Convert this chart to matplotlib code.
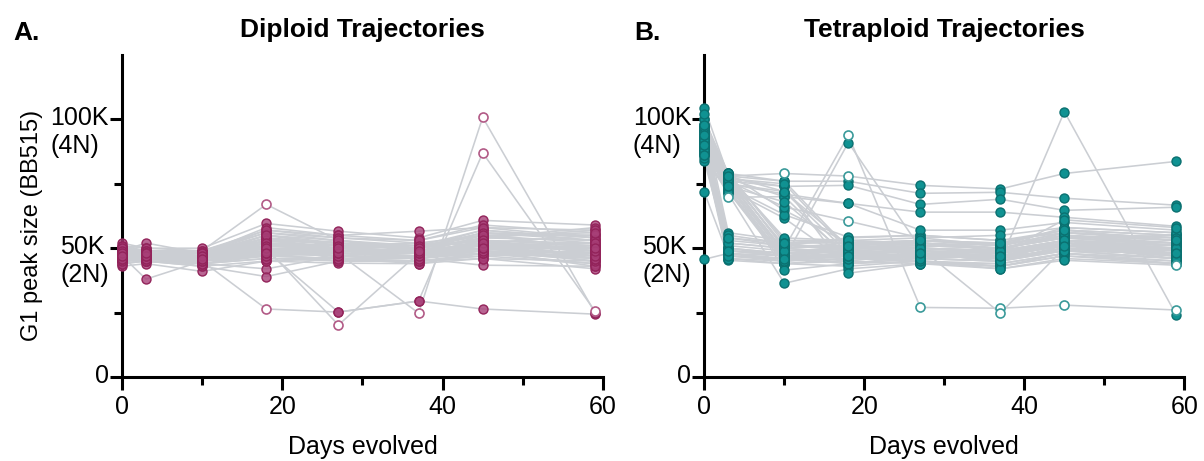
"""
Diploid vs tetraploid G1 peak trajectories over days of evolution.
"""

import matplotlib

matplotlib.use("Agg")

import matplotlib.pyplot as plt
import matplotlib.transforms as mtransforms
import numpy as np

plt.rcParams["font.family"] = ["Liberation Sans", "DejaVu Sans"]

# sampling days
days = [0, 3, 10, 18, 27, 37, 45, 59]

# diploid G1 peak (thousands), one list per day, index = population
dip_d0 = [47, 48, 46, 47, 48, 47, 49, 45, 46, 52, 43, 51, 50, 44, 49, 47, 48, 46, 45, 50,
          48, 47, 49, 46, 48, 47, 45, 50, 48, 47, 49, 46, 48, 47, 51, 44, 48, 47, 49, 46,
          48, 46, 47, 49, 45, 48, 47, 50, 46, 48, 47, 49, 46, 48, 47]
dip_d3 = [47, 47, 46, 48, 49, 38, 52, 46, 45, 50, 44, 49, 48, 45, 48, 46, 47, 47, 46, 49,
          48, 47, 48, 45, 49, 46, 45, 49, 48, 47, 48, 46, 47, 48, 50, 45, 47, 46, 49, 47,
          48, 46, 47, 48, 46, 47, 48, 49, 45, 48, 46, 48, 47, 47, 48]
dip_d10 = [45, 47, 46, 47, 49, 45, 48, 44, 43, 50, 41, 48, 47, 44, 47, 45, 46, 46, 45, 49,
           48, 46, 47, 44, 48, 46, 43, 48, 47, 47, 48, 45, 46, 47, 49, 44, 47, 46, 48, 45,
           47, 45, 46, 48, 44, 47, 46, 48, 45, 47, 46, 48, 45, 47, 46]
dip_d18 = [26.4, 49, 50, 48, 67, 47, 55, 42, 39, 59.6, 45, 57, 53, 46, 51, 49, 52, 54, 50, 56,
           47, 51, 55, 48, 58, 52, 45, 53, 49, 50, 56, 47, 53, 51, 57, 46, 54, 50, 52, 48,
           50, 49, 52, 54, 47, 51, 53, 55, 48, 50, 49, 52, 51, 50, 48]
dip_d27 = [25.2, 25.2, 20.2, 48, 53, 49, 52, 47, 45, 56.6, 44.2, 55, 50, 46, 53, 47, 51, 49, 46, 54,
           48, 50, 51, 45, 55, 48, 46, 52, 49, 47, 53, 46, 50, 51, 54, 45, 52, 48, 49, 47,
           49, 48, 50, 51, 46, 49, 52, 53, 47, 50, 48, 51, 49, 48, 50]
dip_d37 = [29.5, 29.5, 48, 24.8, 50, 48, 50, 46, 47, 54, 44, 56.6, 51, 45, 49, 47, 50, 48, 46, 52,
           49, 48, 52, 45, 53, 47, 44, 51, 48, 46, 50, 47, 49, 48, 53, 45, 49, 47, 50, 46,
           49, 47, 48, 50, 45, 48, 49, 51, 46, 49, 47, 50, 48, 48, 49]
dip_d45 = [26.4, 87, 52, 100.8, 55, 51, 57, 49, 50, 60.8, 46, 58, 53, 47, 52, 48, 56, 50, 43.4, 55,
           54, 49, 51, 47, 59, 53, 48, 57, 52, 50, 54, 49, 51, 55, 58, 46, 52, 50, 53, 48,
           51, 50, 53, 56, 48, 51, 54, 55, 49, 52, 50, 53, 51, 52, 50]
dip_d59 = [24.4, 25.6, 50, 25.0, 52, 49, 54, 46, 45, 59, 42, 57, 48, 44, 51, 47, 53, 46, 43, 55,
           58, 45, 50, 48, 56, 49, 44, 53, 47, 51, 57, 43, 52, 50, 54, 45, 55, 48, 46, 49,
           52, 47, 51, 55, 46, 49, 53, 56, 48, 50, 51, 52, 47, 49, 50]
# populations drawn as open circles on a given day
dip_open = {18: [0, 4], 27: [2], 37: [3], 45: [1, 3], 59: [1]}

# tetraploid G1 peak (thousands)
tet_d0 = [92, 88, 95, 90, 86, 93, 89, 98.4, 84, 91, 45.7, 71.7, 87, 94, 90,
          96, 92, 89, 100, 85, 93, 88, 97, 91, 86, 94, 90,
          95, 92, 89, 97, 87, 91, 94,
          98, 96, 93, 90, 92, 100,
          104.6, 102, 88, 90, 93,
          91, 87, 94, 89, 96, 93, 90, 95, 88, 92, 97, 86, 94, 90, 98]
tet_d3 = [48, 46, 52, 54, 45.3, 50, 47, 56, 49, 51, 48, 47, 53, 46, 49,
          76, 78, 74, 79, 72, 75, 73, 77, 76, 71, 78, 74,
          78, 75, 77, 79, 73, 76, 74,
          78, 79, 77, 75, 69.8, 76,
          78, 72, 50, 48, 55,
          50, 47, 52, 49, 54, 77, 75, 78, 73, 76, 79, 72, 77, 74, 78]
tet_d10 = [47, 45, 50, 52, 44, 48, 46, 53, 47, 49, 46, 45, 51, 44, 48,
           48, 50, 46, 53, 44, 47, 45, 51, 41.5, 36.4, 54, 49,
           76, 72, 70, 64.7, 61.6, 74, 63,
           79, 76, 74, 71, 70, 66,
           50, 46, 47, 45, 52,
           48, 46, 50, 47, 51, 48, 47, 50, 45, 49, 52, 46, 75, 68, 72]
tet_d18 = [50, 48, 52, 49, 46, 51, 47, 53, 45, 50, 44, 48, 54, 43, 49,
           50, 48, 47, 52, 45, 46, 49, 51, 44, 42, 53, 50,
           50, 48, 46, 52, 44, 40.3, 54.3,
           78, 76, 74.4, 67.4, 67.4, 60.5,
           93.8, 91, 49, 47, 52,
           49, 48, 51, 47, 50, 49, 48, 51, 46, 50, 53, 47, 49, 47, 51]
tet_d27 = [49, 47, 51, 53, 45, 50, 46, 54, 48, 52, 47, 46, 55, 45, 48,
           50, 49, 47, 53, 44, 48, 46, 52, 45, 44, 51, 50,
           52, 49, 47, 53, 46, 44, 55,
           74.4, 71.3, 67, 64, 57, 54,
           27, 50, 48, 45, 47,
           50, 47, 52, 49, 51, 48, 50, 49, 47, 51, 52, 46, 50, 48, 53]
tet_d37 = [48, 46, 50, 52, 44, 49, 47, 51, 45, 50, 46, 48, 53, 43, 47,
           48, 47, 46, 51, 44, 49, 45, 50, 43, 42, 52, 49,
           50, 48, 46, 51, 45, 43, 53,
           73, 71.7, 69, 64, 57, 55,
           26.7, 24.8, 45, 42, 48,
           48, 47, 51, 46, 50, 47, 49, 48, 46, 50, 49, 45, 49, 47, 52]
tet_d45 = [52, 50, 55, 57, 48, 53, 49, 58, 51, 54, 50, 52, 56, 47, 51,
           52, 53, 49, 56, 48, 51, 50, 55, 47, 46, 54, 53,
           54, 52, 50, 56, 49, 48, 57,
           79, 69.4, 64.7, 62, 60, 58,
           27.9, 50, 103, 45.3, 61,
           53, 51, 55, 52, 54, 52, 51, 53, 50, 55, 56, 49, 53, 51, 57]
tet_d59 = [50, 47, 53, 55, 45, 51, 48, 56, 46, 52, 49, 47, 54, 44, 50,
           51, 49, 48, 53, 46, 50, 47, 52, 45, 44, 55, 48,
           52, 49, 47, 54, 46, 44, 55,
           83.7, 66.7, 65.9, 58.5, 57, 56,
           26, 48, 24, 43.4, 58,
           50, 48, 53, 49, 51, 50, 49, 52, 47, 51, 54, 46, 50, 48, 53]
tet_open = {3: [38], 10: [34], 18: [34, 39, 40], 27: [40], 37: [40, 41], 45: [40], 59: [40, 43]}

y_ticks = [0, 50000, 100000]
y_ticklabels = ["0", "50K\n(2N)", "100K\n(4N)"]
x_ticks = [0, 20, 40, 60]

LINE_GREY = "#CBCED3"


def draw_panel(ax, table, open_points, face, edge, open_edge, title):
    values = np.array(table, dtype=float).T * 1000.0

    for series in values:
        ax.plot(days, series, color=LINE_GREY, linewidth=1.15, zorder=1)

    for j, day in enumerate(days):
        hollow = np.zeros(values.shape[0], dtype=bool)
        hollow[open_points.get(day, [])] = True
        col = values[:, j]
        x = np.full(col.shape, day)
        ax.scatter(x[~hollow], col[~hollow], s=42, facecolor=face, edgecolor=edge,
                   linewidth=1.0, zorder=3, clip_on=False)
        ax.scatter(x[hollow], col[hollow], s=42, facecolor="white", edgecolor=open_edge,
                   linewidth=1.2, zorder=4, clip_on=False)

    ax.set_xlim(0, 60)
    ax.set_ylim(0, 125000)
    ax.spines["top"].set_visible(False)
    ax.spines["right"].set_visible(False)
    for side in ("left", "bottom"):
        ax.spines[side].set_linewidth(2.2)

    ax.set_xticks(x_ticks)
    ax.set_xticks([10, 30, 50], minor=True)
    ax.set_yticks(y_ticks)
    ax.set_yticks([25000, 75000], minor=True)
    ax.set_yticklabels([])

    # y labels drawn as text so the first line sits on the tick
    shift = mtransforms.ScaledTranslation(-9.5 / 72, 9.5 / 72, ax.figure.dpi_scale_trans)
    for value, text in zip(y_ticks, y_ticklabels):
        ax.text(0, value, text, transform=ax.get_yaxis_transform() + shift,
                ha="right", va="top", multialignment="left", linespacing=1.2,
                fontsize=18)

    ax.tick_params(axis="both", which="major", length=9, width=2.2, labelsize=18)
    ax.tick_params(axis="both", which="minor", length=5.5, width=2.2)
    ax.tick_params(axis="x", which="major", pad=4)

    ax.set_xlabel("Days evolved", fontsize=18)
    ax.xaxis.set_label_coords(0.5, -0.18)
    ax.set_title(title, fontsize=19, fontweight="bold", pad=13)


fig = plt.figure(figsize=(12.04, 4.61), dpi=100)
ax_a = fig.add_axes([0.1013, 0.1822, 0.3995, 0.6985])
ax_b = fig.add_axes([0.585, 0.1822, 0.3987, 0.6985])

draw_panel(ax_a, [dip_d0, dip_d3, dip_d10, dip_d18, dip_d27, dip_d37, dip_d45, dip_d59],
           dip_open, (0.66, 0.25, 0.47, 0.8), "#92235A", "#B25A86", "Diploid Trajectories")
draw_panel(ax_b, [tet_d0, tet_d3, tet_d10, tet_d18, tet_d27, tet_d37, tet_d45, tet_d59],
           tet_open, "#109292", "#0A7070", "#3A9A9A", "Tetraploid Trajectories")

ax_a.set_ylabel("G1 peak size (BB515)", fontsize=17)
ax_a.yaxis.set_label_coords(-0.165, 0.47)

fig.text(13 / 1204, 1 - 40 / 461, "A.", fontsize=19, fontweight="bold", va="baseline")
fig.text(634 / 1204, 1 - 40 / 461, "B.", fontsize=19, fontweight="bold", va="baseline")

fig.savefig("out.png", dpi=100)
